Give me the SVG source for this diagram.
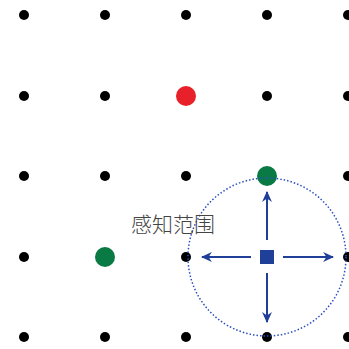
<svg xmlns="http://www.w3.org/2000/svg" width="349" height="349" viewBox="0 0 349 349">
<style>
.d{fill:#000}
.ar{stroke:#1f3f99;stroke-width:2;fill:none;marker-end:url(#ah)}
.t{font-family:"Noto Sans CJK SC","Liberation Sans",sans-serif;font-size:21px;font-weight:300;fill:#444}
</style>
<defs>
<marker id="ah" viewBox="0 0 10 10" refX="9" refY="5" markerWidth="11" markerHeight="11" markerUnits="userSpaceOnUse" orient="auto">
<path d="M0,0.5 L10,5 L0,9.5 L3,5 z" fill="#1f3f99"/>
</marker>
</defs>
<rect width="349" height="349" fill="#fff"/>
<g id="grid">
<circle class="d" cx="24" cy="15" r="5"/><circle class="d" cx="105" cy="15" r="5"/><circle class="d" cx="186" cy="15" r="5"/><circle class="d" cx="267" cy="15" r="5"/><circle class="d" cx="348" cy="15" r="5"/>
<circle class="d" cx="24" cy="96" r="5"/><circle class="d" cx="105" cy="96" r="5"/><circle class="d" cx="267" cy="96" r="5"/><circle class="d" cx="348" cy="96" r="5"/>
<circle class="d" cx="24" cy="176" r="5"/><circle class="d" cx="105" cy="176" r="5"/><circle class="d" cx="186" cy="176" r="5"/><circle class="d" cx="348" cy="176" r="5"/>
<circle class="d" cx="24" cy="257" r="5"/><circle class="d" cx="186" cy="257" r="5"/><circle class="d" cx="348" cy="257" r="5"/>
<circle class="d" cx="24" cy="337" r="5"/><circle class="d" cx="105" cy="337" r="5"/><circle class="d" cx="186" cy="337" r="5"/><circle class="d" cx="267" cy="337" r="5"/><circle class="d" cx="348" cy="337" r="5"/>
</g>
<g id="red"><circle cx="186" cy="96" r="10" fill="#e8202a"/></g>
<g id="green1"><circle cx="267" cy="176" r="10" fill="#0a7a44"/></g>
<g id="green2"><circle cx="105" cy="257" r="10" fill="#0a7a44"/></g>
<g id="range"><circle cx="267" cy="257" r="79" fill="none" stroke="#2a4fc0" stroke-width="1.5" stroke-dasharray="1.5 2"/></g>
<g id="agent"><rect x="260" y="250" width="14" height="14" fill="#1f3f99"/></g>
<g id="connectors">
<line class="ar" x1="267" y1="240" x2="267" y2="192"/>
<line class="ar" x1="267" y1="273" x2="267" y2="322"/>
<line class="ar" x1="251" y1="257" x2="202" y2="257"/>
<line class="ar" x1="283" y1="257" x2="333" y2="257"/>
</g>
<text class="t" x="131" y="232">感知范围</text>
</svg>
